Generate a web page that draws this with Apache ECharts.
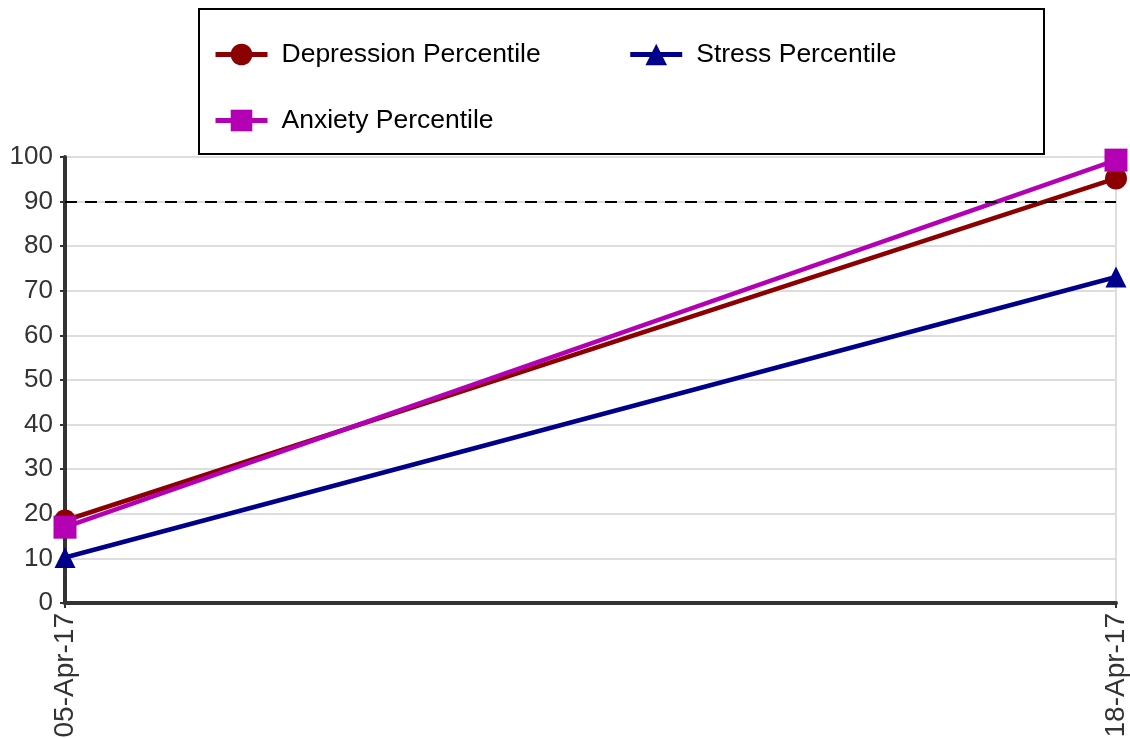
<!DOCTYPE html>
<html>
<head>
<meta charset="utf-8">
<script src="https://cdn.jsdelivr.net/npm/echarts@6/dist/echarts.min.js"></script>
<style>
  html, body { margin: 0; padding: 0; background: #fff; }
  #chart { width: 1130px; height: 738px; }
</style>
</head>
<body>
<div id="chart"></div>
<script>
// Assessment dates
const dates = ['05-Apr-17', '18-Apr-17'];

// Percentile scores per scale
const depression = [18.5, 95.2];
const stress = [10.2, 73.1];
const anxiety = [17.0, 99.3];

// Clinical threshold drawn as a dashed reference line
const threshold = 90;

const FONT = '"Liberation Sans", Arial, Helvetica, sans-serif';

const chart = echarts.init(document.getElementById('chart'));

function lineSeries(name, data, color, symbol, size) {
  return {
    name: name,
    type: 'line',
    data: data,
    symbol: symbol,
    symbolSize: size,
    showAllSymbol: true,
    lineStyle: { color: color, width: 4.5 },
    itemStyle: { color: color },
    emphasis: { disabled: true },
    animation: false
  };
}

const series = [
  lineSeries('Depression Percentile', depression, '#8b0000', 'circle', 22),
  lineSeries('Stress Percentile', stress, '#00008b', 'triangle', 21),
  lineSeries('Anxiety Percentile', anxiety, '#b300b3', 'rect', 23)
];

series[1].markLine = {
  silent: true,
  symbol: ['none', 'none'],
  label: { show: false },
  lineStyle: { color: '#000', type: [12, 8], width: 2 },
  data: [{ yAxis: threshold }],
  animation: false
};

const legendText = { fontSize: 26.5, color: '#000', fontFamily: FONT, padding: [0, 0, 0, 9] };
const legendCommon = {
  itemWidth: 52, itemHeight: 27,
  padding: 0,
  textStyle: legendText,
  lineStyle: { width: 5 },
  selectedMode: false,
  z: 20
};

chart.setOption({
  animation: false,
  grid: { left: 65, right: 14, top: 157, bottom: 135, containLabel: false, outerBoundsMode: 'none' },
  graphic: [{
    type: 'rect',
    z: 10,
    shape: { x: 199, y: 9, width: 845, height: 145 },
    style: { fill: '#fff', stroke: '#000', lineWidth: 2 }
  }],
  legend: [
    Object.assign({
      data: ['Depression Percentile', 'Stress Percentile'],
      left: 213, top: 41,
      itemGap: 87
    }, legendCommon),
    Object.assign({
      data: ['Anxiety Percentile'],
      left: 213, top: 107
    }, legendCommon)
  ],
  xAxis: {
    type: 'category',
    data: dates,
    boundaryGap: false,
    axisLine: { lineStyle: { color: '#333', width: 4 } },
    axisTick: { show: true, length: 5, lineStyle: { color: '#333', width: 2 } },
    axisLabel: { rotate: 90, margin: 10, fontSize: 28, color: '#333', fontFamily: FONT },
    splitLine: { show: true, lineStyle: { color: '#ddd', width: 2 } }
  },
  yAxis: {
    type: 'value',
    min: 0, max: 100, interval: 10,
    axisLine: { show: true, lineStyle: { color: '#333', width: 4 } },
    axisTick: { show: true, length: 5, lineStyle: { color: '#333', width: 2 } },
    axisLabel: { margin: 12, fontSize: 26, color: '#333', fontFamily: FONT },
    splitLine: { show: true, lineStyle: { color: '#ddd', width: 2 } }
  },
  series: series
});
</script>
</body>
</html>
